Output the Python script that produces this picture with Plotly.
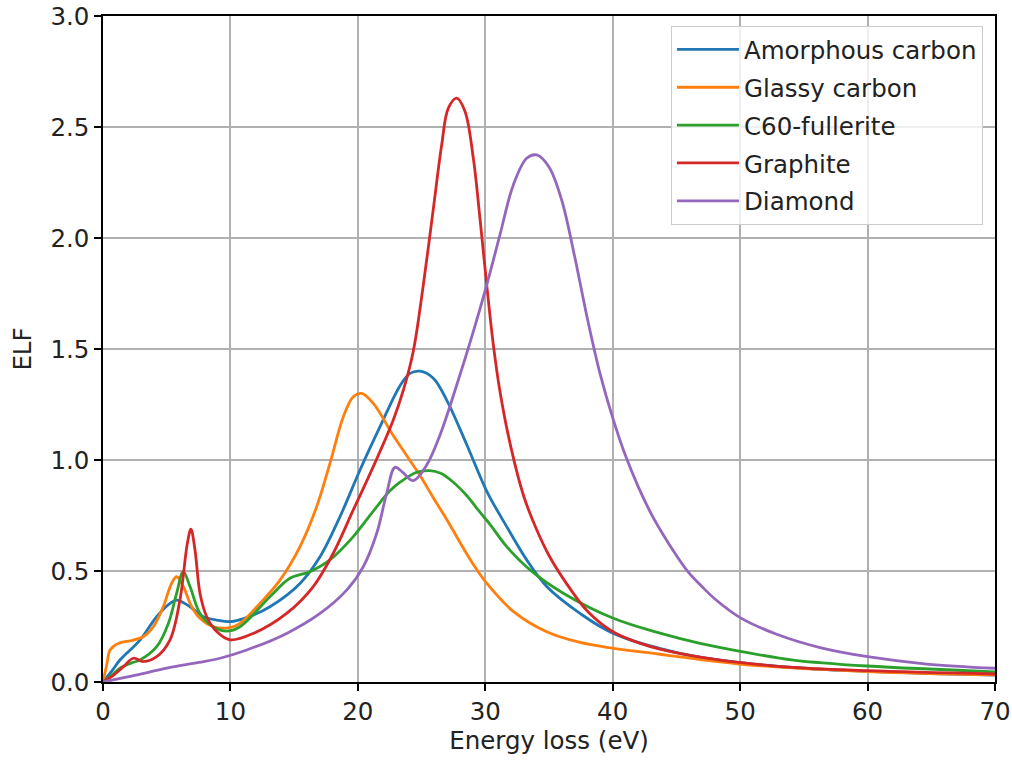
import plotly.graph_objects as go

series_names = ["Amorphous carbon", "Glassy carbon", "C60-fullerite", "Graphite", "Diamond"]
series_colors = ["#1f77b4", "#ff7f0e", "#2ca02c", "#d62728", "#9467bd"]

amorphous_x = [0, 0.7, 1.33, 2.9, 4.21, 5.26, 5.78, 6.83, 7.87, 8.92, 10.0, 11.28, 13.1, 15.46, 17.03,
               18.6, 20.17, 21.74, 23.31, 24.09, 24.88, 25.92, 26.97, 28.54, 30.11, 31.68, 33.25, 34.82,
               37.43, 40.05, 45.28, 50, 55, 60, 65, 70]
amorphous_y = [0, 0.05, 0.099, 0.189, 0.294, 0.354, 0.369, 0.339, 0.294, 0.279, 0.272, 0.29, 0.339, 0.444,
               0.564, 0.745, 0.955, 1.15, 1.335, 1.39, 1.40, 1.368, 1.27, 1.07, 0.86, 0.70, 0.55, 0.43,
               0.309, 0.219, 0.129, 0.087, 0.062, 0.048, 0.038, 0.031]

glassy_x = [0, 0.3, 0.55, 1.0, 1.33, 2.38, 3.16, 3.95, 4.73, 5.39, 5.78, 6.3, 6.96, 7.61, 8.66, 9.97,
            10.75, 12.32, 13.89, 15.46, 16.77, 17.81, 18.86, 19.64, 20.3, 21.21, 22.78, 23.83,
            24.88, 25.92, 27.0, 28.0, 29.0, 30.11, 32.2, 34.82, 37.43, 40.05, 43.71, 45.28, 50.12, 60, 70]
glassy_y = [0, 0.08, 0.144, 0.168, 0.176, 0.189, 0.204, 0.249, 0.339, 0.445, 0.474, 0.43, 0.339, 0.287,
            0.249, 0.245, 0.264, 0.354, 0.459, 0.61, 0.79, 0.985, 1.195, 1.285, 1.30, 1.255, 1.11,
            1.02, 0.93, 0.83, 0.73, 0.63, 0.535, 0.445, 0.318, 0.226, 0.178, 0.152, 0.125, 0.113, 0.08,
            0.047, 0.032]

c60_x = [0, 0.7, 1.33, 2.2, 2.9, 4.21, 5.13, 5.78, 6.3, 6.83, 7.61, 8.66, 9.71, 10.75, 13.1, 14.67,
         16.24, 17.81, 19.64, 21.21, 22.5, 23.31, 24.62, 25.66, 26.5, 27.49, 28.54, 29.58, 30.37, 31.68,
         33.51, 36.12, 40.05, 43.71, 46.85, 50.12, 54.17, 60, 70]
c60_y = [0, 0.03, 0.062, 0.085, 0.099, 0.159, 0.264, 0.40, 0.497, 0.43, 0.309, 0.249, 0.229, 0.249,
         0.384, 0.467, 0.497, 0.55, 0.655, 0.77, 0.86, 0.90, 0.945, 0.952, 0.94, 0.90, 0.84, 0.765, 0.71,
         0.61, 0.505, 0.40, 0.287, 0.22, 0.174, 0.137, 0.099, 0.072, 0.046]

graphite_x = [0, 0.81, 1.6, 2.38, 3.16, 4.21, 5.26, 6.04, 6.62, 6.9, 7.22, 7.61, 8.14, 8.92, 9.97, 11.8,
              14.41, 16.5, 18.07, 19.64, 21.21, 22.78, 23.6, 24.35, 25.14, 25.92, 26.58, 27.1, 27.76,
              28.41, 29.06, 29.58, 30.11, 30.63, 31.15, 32.0, 33.0, 34.0, 35.0, 36.3, 38.0, 40.05, 42.1,
              43.71, 46.85, 50.12, 54.17, 60, 70]
graphite_y = [0, 0.03, 0.069, 0.107, 0.092, 0.114, 0.19, 0.37, 0.625, 0.688, 0.595, 0.40, 0.294, 0.227,
              0.19, 0.219, 0.309, 0.43, 0.58, 0.775, 0.97, 1.18, 1.32, 1.49, 1.79, 2.13, 2.42, 2.585, 2.63,
              2.57, 2.36, 2.09, 1.79, 1.52, 1.31, 1.06, 0.84, 0.69, 0.57, 0.45, 0.32, 0.225, 0.175, 0.148,
              0.112, 0.087, 0.066, 0.051, 0.036]

diamond_x = [0, 2.5, 5, 7.5, 9.18, 11.28, 14.41, 17.03, 19.12, 20.43, 21.48, 22.26, 22.91, 23.5, 24.35,
             25.4, 26.45, 27.76, 29.06, 30.11, 31.15, 32.2, 33.25, 34.03, 35.0, 36.0, 37.0, 38.0, 39.0,
             40.0, 41.0, 42.0, 43.0, 44.0, 45.0, 46.0, 47.0, 48.0, 50.0, 52.87, 56.27, 60, 64.64, 70]
diamond_y = [0, 0.03, 0.062, 0.088, 0.107, 0.144, 0.219, 0.309, 0.414, 0.52, 0.67, 0.85, 0.967, 0.945,
             0.907, 0.977, 1.113, 1.338, 1.578, 1.788, 2.014, 2.239, 2.359, 2.374, 2.32, 2.17, 1.92, 1.64,
             1.39, 1.19, 1.02, 0.88, 0.76, 0.66, 0.57, 0.49, 0.43, 0.375, 0.29, 0.215, 0.155, 0.114,
             0.081, 0.062]

x_ticks = [0, 10, 20, 30, 40, 50, 60, 70]
y_ticks = [0.0, 0.5, 1.0, 1.5, 2.0, 2.5, 3.0]

all_x = [amorphous_x, glassy_x, c60_x, graphite_x, diamond_x]
all_y = [amorphous_y, glassy_y, c60_y, graphite_y, diamond_y]

FONT = "DejaVu Sans"
FS = 24.5
TXT = "#222222"
fig = go.Figure()
for i, (name, color, xs, ys) in enumerate(zip(series_names, series_colors, all_x, all_y)):
    fig.add_trace(go.Scatter(
        x=xs, y=ys, mode="lines", name=name, legendgroup=f"g{i}",
        line=dict(color=color, width=2.8, shape="spline", smoothing=1.0),
    ))

axis_common = dict(
    showline=True, linecolor="black", linewidth=1.5, mirror=True,
    ticks="outside", ticklen=7, tickwidth=1.5, tickcolor="black",
    showgrid=True, gridcolor="#b0b0b0", gridwidth=1.5, zeroline=False,
    tickfont=dict(family=FONT, size=FS, color=TXT), automargin=False,
)

fig.update_layout(
    width=1012, height=762,
    margin=dict(l=103, r=17, t=16, b=80),
    paper_bgcolor="white", plot_bgcolor="white",
    font=dict(family=FONT, size=FS, color=TXT),
    xaxis=dict(range=[0, 70], tickvals=x_ticks, ticktext=[str(v) for v in x_ticks],
               title=dict(text="Energy loss (eV)", font=dict(family=FONT, size=FS, color=TXT), standoff=6),
               **axis_common),
    yaxis=dict(range=[0, 3], tickvals=y_ticks, ticktext=[f"{v:.1f}" for v in y_ticks],
               title=dict(text="ELF", font=dict(family=FONT, size=FS, color=TXT), standoff=12),
               **axis_common),
    legend=dict(
        x=0.9865, y=0.985, xanchor="right", yanchor="top",
        bgcolor="rgba(255,255,255,0.8)", bordercolor="#cccccc", borderwidth=1,
        font=dict(family=FONT, size=FS, color=TXT),
        traceorder="grouped", tracegroupgap=3, itemwidth=62,
    ),
    showlegend=True,
)

fig.write_html("out.html", config={"displayModeBar": False},
               post_script="document.body.style.margin='0';")
